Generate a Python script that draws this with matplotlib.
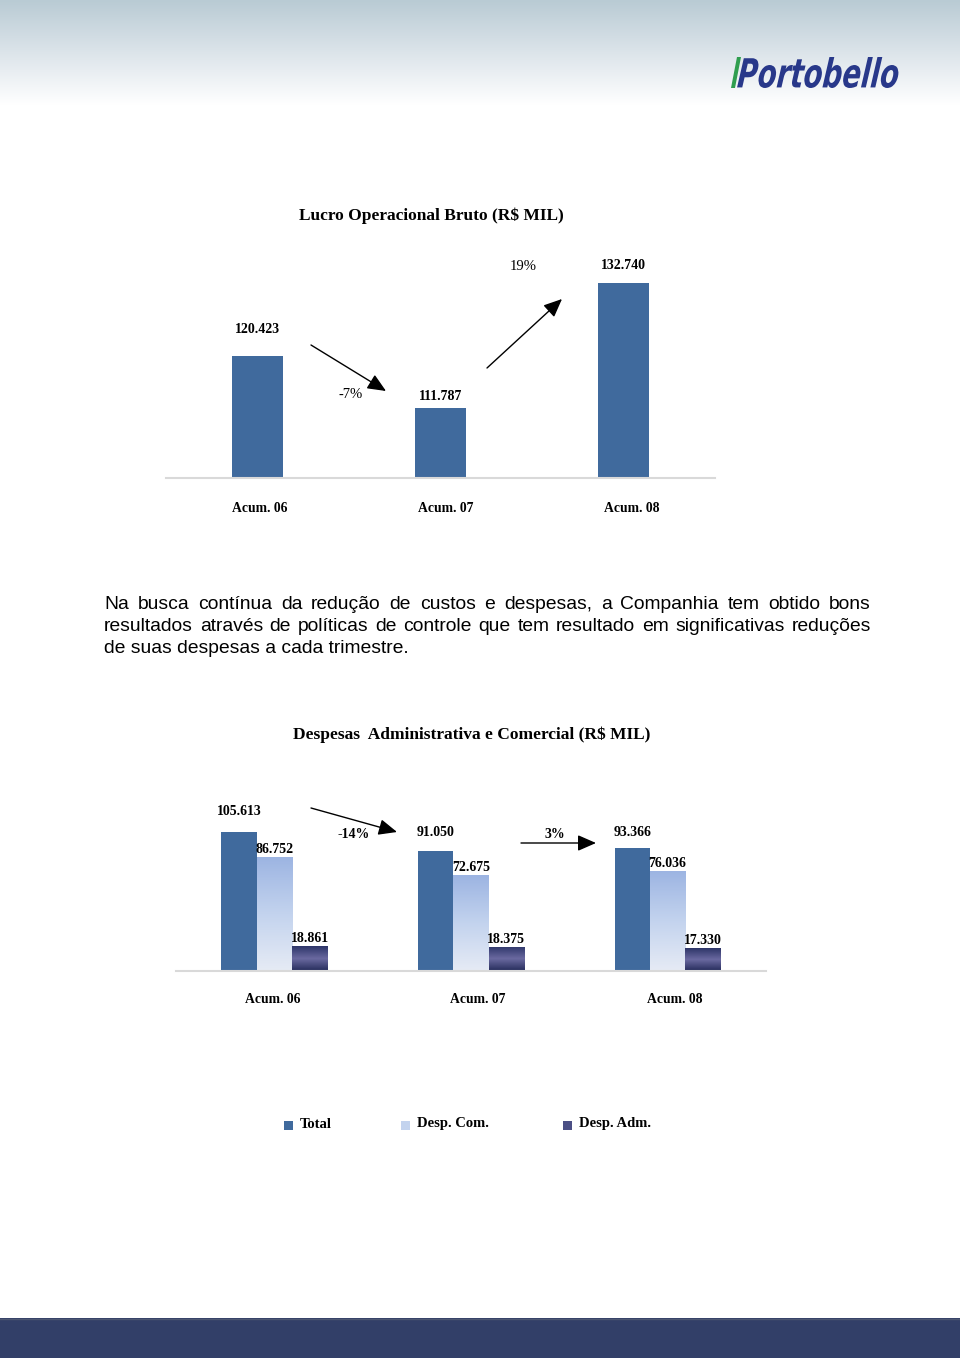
import numpy as np
import matplotlib
matplotlib.use('Agg')
import matplotlib.pyplot as plt
from matplotlib.colors import LinearSegmentedColormap
from matplotlib.patches import Rectangle, Polygon, PathPatch
from matplotlib.textpath import TextPath
from matplotlib.font_manager import FontProperties
from matplotlib.transforms import Affine2D

plt.rcParams['font.family'] = ['Liberation Serif', 'DejaVu Sans']

W, H = 960, 1358

# Lucro Operacional Bruto (R$ MIL)
lucro_cats = ['Acum. 06', 'Acum. 07', 'Acum. 08']
lucro_vals = [120423, 111787, 132740]
lucro_var = ['-7%', '19%']

# Despesas Administrativa e Comercial (R$ MIL)
desp_cats = ['Acum. 06', 'Acum. 07', 'Acum. 08']
desp_total = [105613, 91050, 93366]
desp_com = [86752, 72675, 76036]
desp_adm = [18861, 18375, 17330]
desp_var = ['-14%', '3%']
desp_series = ['Total', 'Desp. Com.', 'Desp. Adm.']

paragrafo = [
    'Na busca contínua da redução de custos e despesas, a Companhia tem obtido bons',
    'resultados através de políticas de controle que tem resultado em significativas reduções',
    'de suas despesas a cada trimestre.',
]

c_total = '#406a9d'
c_com = ['#e6ebf5', '#c3d3ee', '#9cb4e2']
c_adm = ['#242b5a', '#6a69a0', '#2d3568']


def fmt(v):
    return '{:,}'.format(v).replace(',', '.')


def rect(l, t, r, b):
    return [l / W, 1 - b / H, (r - l) / W, (b - t) / H]


fig = plt.figure(figsize=(W / 100, H / 100), dpi=100)
bg = fig.add_axes([0, 0, 1, 1], zorder=0)

# page header gradient and footer band
grad = np.linspace(0, 1, 200).reshape(-1, 1)
head = LinearSegmentedColormap.from_list('head', ['#b9cbd4', '#dce4ea', '#ffffff'])
bg.imshow(grad, extent=[0, W, 105, 0], cmap=head, aspect='auto', origin='upper')
bg.add_patch(Rectangle((0, 1318), W, 40, color='#323f68', lw=0))
bg.plot([0, W], [1318.5, 1318.5], color='#4c5672', lw=1)
bg.set_xlim(0, W)
bg.set_ylim(H, 0)
bg.axis('off')

# logo
fp = FontProperties(family='DejaVu Sans', weight='bold', style='italic')
tp = TextPath((0, 0), 'Portobello', size=40, prop=fp)
ext = tp.get_extents()
shear = np.tan(np.radians(8))
sy = (88 - 57) / ext.height
sx = (900 - 737) / (ext.width + ext.height * shear)
tr = Affine2D().translate(-ext.x0, -ext.y0).skew_deg(8, 0).scale(sx, -sy).translate(737, 88)
bg.add_patch(PathPatch(tr.transform_path(tp), fc='#28388a', ec='none'))
bg.add_patch(Polygon([(731, 88), (735, 88), (741, 57), (737, 57)], fc='#2f9e4f', ec='none'))

lab = dict(fontsize=10, fontweight='bold', color='black')

# ---- chart 1
bg.text(431, 216, 'Lucro Operacional Bruto (R$ MIL)', ha='center', va='center',
        fontsize=12.5, fontweight='bold')
ax1 = fig.add_axes(rect(166, 240, 715, 478), zorder=1)
ax1.patch.set_alpha(0)
x1 = np.arange(len(lucro_cats))
ax1.bar(x1, lucro_vals, width=0.28, color=c_total)
ax1.set_xlim(-0.5, 2.5)
ax1.set_ylim(100000, 140000)
off1 = [19.5, 8.5, 12.5]
for i, v in enumerate(lucro_vals):
    ax1.annotate(fmt(v), (x1[i], v), xytext=(0, off1[i]), textcoords='offset points',
                 ha='center', va='center', **lab)
ax1.set_xticks(x1 + [0.01, 0.03, 0.045], lucro_cats, fontsize=9.8, fontweight='bold')
ax1.tick_params(axis='x', length=0, pad=17)
ax1.set_yticks([])
for s in ['top', 'left', 'right']:
    ax1.spines[s].set_visible(False)
ax1.spines['bottom'].set_color('#d9d9d9')
ax1.spines['bottom'].set_linewidth(1.5)

arrow = dict(arrowstyle='-|>,head_length=0.8,head_width=0.35', color='black', lw=1,
             mutation_scale=14, shrinkA=0, shrinkB=0)
bg.annotate('', xy=(386, 391), xytext=(311, 345), arrowprops=arrow)
bg.annotate('', xy=(562, 299), xytext=(487, 368), arrowprops=arrow)
bg.text(351, 394, lucro_var[0], ha='center', va='center', fontsize=10.5)
bg.text(523, 267, lucro_var[1], ha='center', va='center', fontsize=10.5)

# ---- paragraph (justified)
renderer = fig.canvas.get_renderer()
lx0, lx1 = 104, 871
ptxt = dict(fontsize=13.9, family='Liberation Sans', va='baseline', color='black')
for i, line in enumerate(paragrafo):
    y = 609 + 22 * i
    if i == len(paragrafo) - 1:
        bg.text(lx0, y, line, **ptxt)
        continue
    words = line.split()
    ts = [bg.text(0, y, w, **ptxt) for w in words]
    ws = [t.get_window_extent(renderer).width for t in ts]
    gap = (lx1 - lx0 - sum(ws)) / (len(words) - 1)
    x = lx0
    for t, w in zip(ts, ws):
        t.set_x(x)
        x += w + gap

# ---- chart 2
bg.text(472, 735, 'Despesas  Administrativa e Comercial (R$ MIL)', ha='center', va='center',
        fontsize=12.5, fontweight='bold')
ax2 = fig.add_axes(rect(176, 813, 766, 971), zorder=1)
ax2.patch.set_alpha(0)
x2 = np.arange(len(desp_cats))
bw = 0.18
bt = ax2.bar(x2 - bw, desp_total, width=bw, color=c_total)
bc = ax2.bar(x2, desp_com, width=bw, color=c_com[1])
ba = ax2.bar(x2 + bw, desp_adm, width=bw, color=c_adm[1])

gv = np.linspace(0, 1, 256).reshape(-1, 1)
for bars, cols in [(bc, c_com), (ba, c_adm)]:
    cm = LinearSegmentedColormap.from_list('g', cols)
    for r in bars:
        x0, y0 = r.get_x(), r.get_y()
        im = ax2.imshow(gv, extent=[x0, x0 + r.get_width(), y0, y0 + r.get_height()],
                        cmap=cm, aspect='auto', origin='lower', zorder=2)
        im.set_clip_path(r)
        r.set_facecolor('none')

ax2.set_xlim(-0.5, 2.5)
ax2.set_ylim(0, 120000)
for series, dx, offs in [(desp_total, -bw, [15, 13.5, 11.5]), (desp_com, 0, [5, 5.5, 5]),
                         (desp_adm, bw, [5.5, 5.5, 5.5])]:
    for i, v in enumerate(series):
        ax2.annotate(fmt(v), (x2[i] + dx, v), xytext=(0, offs[i]), textcoords='offset points',
                     ha='center', va='center', zorder=5, **lab)
ax2.set_xticks(x2 + [-0.01, 0.035, 0.035], desp_cats, fontsize=9.8, fontweight='bold')
ax2.tick_params(axis='x', length=0, pad=16)
ax2.set_yticks([])
for s in ['top', 'left', 'right']:
    ax2.spines[s].set_visible(False)
ax2.spines['bottom'].set_color('#d9d9d9')
ax2.spines['bottom'].set_linewidth(1.5)

bg.annotate('', xy=(397, 832), xytext=(311, 808), arrowprops=arrow)
bg.annotate('', xy=(596, 843), xytext=(521, 843), arrowprops=arrow)
bg.text(354, 834, desp_var[0], ha='center', va='center', fontsize=10, fontweight='bold')
bg.text(555, 834, desp_var[1], ha='center', va='center', fontsize=10, fontweight='bold')

# ---- legend
leg_cols = [c_total, c_com[1], '#4b4f85']
leg_x = [288, 405, 567]
for name, col, lx in zip(desp_series, leg_cols, leg_x):
    bg.add_patch(Rectangle((lx - 4.5, 1121), 9, 9, color=col, lw=0))
    bg.text(lx + 12, 1124, name, ha='left', va='center', fontsize=10.5, fontweight='bold')

fig.savefig('out.png', dpi=100)
